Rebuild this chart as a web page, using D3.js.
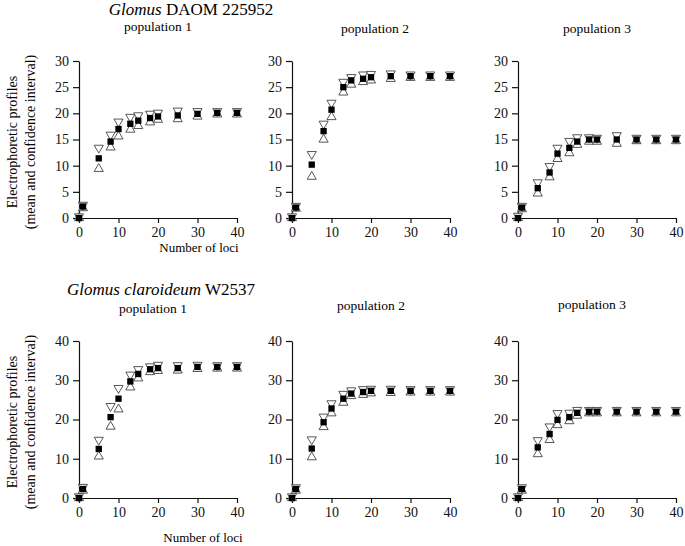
<!DOCTYPE html>
<html>
<head>
<meta charset="utf-8">
<script src="https://cdn.jsdelivr.net/npm/d3@7"></script>
<style>
  body { margin: 0; background: #fff; }
  svg { display: block; font-family: "Liberation Serif", "DejaVu Serif", serif; }
</style>
</head>
<body>
<svg></svg>
<script>
const svgWidth = 685;
const svgHeight = 546;

// number of loci sampled
const loci = [0, 1, 5, 8, 10, 13, 15, 18, 20, 25, 30, 35, 40];

// Glomus DAOM 225952
const daomPop1Mean  = [0, 2.2, 11.4, 14.6, 17.0, 18.0, 18.6, 19.1, 19.4, 19.6, 19.9, 20.1, 20.1];
const daomPop1Upper = [0.3, 2.5, 13.4, 15.9, 18.4, 19.3, 19.6, 19.9, 20.1, 20.5, 20.4, 20.4, 20.4];
const daomPop1Lower = [0, 1.9, 9.4, 13.5, 15.6, 16.9, 17.6, 18.3, 18.8, 18.9, 19.4, 19.8, 19.8];

const daomPop2Mean  = [0, 2.0, 10.2, 16.6, 20.7, 25.0, 26.3, 26.6, 26.9, 27.1, 27.1, 27.1, 27.1];
const daomPop2Upper = [0.3, 2.3, 12.2, 18.0, 22.0, 26.0, 26.9, 27.4, 27.5, 27.6, 27.4, 27.4, 27.4];
const daomPop2Lower = [0, 1.8, 7.9, 15.0, 19.3, 24.0, 25.5, 26.0, 26.3, 26.6, 26.8, 26.8, 26.8];

const daomPop3Mean  = [0, 2.0, 5.7, 8.7, 12.3, 13.4, 14.6, 15.0, 15.0, 15.0, 15.0, 15.0, 15.0];
const daomPop3Upper = [0.4, 2.3, 6.8, 9.9, 13.4, 14.7, 15.4, 15.4, 15.3, 15.8, 15.3, 15.3, 15.3];
const daomPop3Lower = [0, 1.7, 4.7, 7.8, 11.3, 12.4, 14.0, 14.6, 14.6, 14.2, 14.7, 14.7, 14.7];

// Glomus claroideum W2537
const clarPop1Mean  = [0, 2.3, 12.5, 20.6, 25.3, 29.7, 31.6, 32.8, 33.1, 33.1, 33.4, 33.4, 33.4];
const clarPop1Upper = [0.4, 2.8, 14.8, 23.4, 28.0, 31.4, 32.8, 33.5, 33.9, 33.8, 33.9, 33.8, 33.8];
const clarPop1Lower = [0, 1.9, 10.6, 18.2, 22.6, 28.2, 30.5, 32.1, 32.4, 32.5, 32.9, 33.0, 33.0];

const clarPop2Mean  = [0, 2.3, 12.6, 19.3, 22.8, 25.3, 26.6, 27.0, 27.3, 27.3, 27.3, 27.3, 27.3];
const clarPop2Upper = [0.4, 2.7, 14.9, 20.7, 24.1, 26.5, 27.4, 27.7, 27.8, 27.8, 27.7, 27.7, 27.7];
const clarPop2Lower = [0, 1.9, 10.4, 18.1, 21.6, 24.3, 26.0, 26.3, 26.7, 26.8, 26.9, 26.9, 26.9];

const clarPop3Mean  = [0, 2.3, 12.9, 16.3, 19.9, 20.6, 21.7, 22.0, 22.0, 22.0, 22.0, 22.0, 22.0];
const clarPop3Upper = [0.4, 2.7, 14.7, 18.2, 21.6, 21.7, 22.4, 22.4, 22.4, 22.4, 22.4, 22.4, 22.4];
const clarPop3Lower = [0, 1.9, 11.2, 14.8, 18.6, 19.6, 21.0, 21.6, 21.6, 21.6, 21.6, 21.6, 21.6];

const xTicks = [0, 10, 20, 30, 40];
const yTicksTop = [0, 5, 10, 15, 20, 25, 30];
const yTicksBottom = [0, 10, 20, 30, 40];

const popNames = ["population 1", "population 2", "population 3"];

const svg = d3.select("svg")
  .attr("width", svgWidth)
  .attr("height", svgHeight);

svg.append("rect").attr("width", svgWidth).attr("height", svgHeight).attr("fill", "#fff");

// panel layout
const colLeft = [79, 292, 518];
const plotW = 158;
const rows = [
  { top: 61, bottom: 218, yMax: 30, yTicks: yTicksTop,
    series: [[daomPop1Mean, daomPop1Upper, daomPop1Lower],
             [daomPop2Mean, daomPop2Upper, daomPop2Lower],
             [daomPop3Mean, daomPop3Upper, daomPop3Lower]],
    popY: [31, 33, 33], popX: [158, 375, 597] },
  { top: 341, bottom: 498, yMax: 40, yTicks: yTicksBottom,
    series: [[clarPop1Mean, clarPop1Upper, clarPop1Lower],
             [clarPop2Mean, clarPop2Upper, clarPop2Lower],
             [clarPop3Mean, clarPop3Upper, clarPop3Lower]],
    popY: [313, 310, 309], popX: [153, 371, 592] }
];

const triUp = d3.symbol().type(d3.symbolTriangle).size(36);
const square = d3.symbol().type(d3.symbolSquare).size(40);

rows.forEach(row => {
  row.series.forEach((s, c) => {
    const x = d3.scaleLinear().domain([0, 40]).range([colLeft[c], colLeft[c] + plotW]);
    const y = d3.scaleLinear().domain([0, row.yMax]).range([row.bottom, row.top]);

    const g = svg.append("g");

    const xAxis = g.append("g")
      .attr("transform", `translate(0,${row.bottom})`)
      .call(d3.axisBottom(x).tickValues(xTicks).tickSize(5).tickSizeOuter(0).tickPadding(4));
    const yAxis = g.append("g")
      .attr("transform", `translate(${colLeft[c]},0)`)
      .call(d3.axisLeft(y).tickValues(row.yTicks).tickSize(6).tickSizeOuter(0).tickPadding(4));

    [xAxis, yAxis].forEach(a => {
      a.selectAll("path, line").attr("stroke", "#111").attr("stroke-width", 1.2);
      a.selectAll("text").attr("font-size", 14).attr("fill", "#111")
        .attr("font-family", "Liberation Serif, serif");
    });

    const [mean, upper, lower] = s;

    // lower bound: upward triangle
    g.selectAll(".lo").data(lower).enter().append("path")
      .attr("d", triUp)
      .attr("transform", (d, i) => `translate(${x(loci[i])},${y(d)})`)
      .attr("fill", "#fff").attr("stroke", "#444").attr("stroke-width", 0.9);

    // upper bound: downward triangle
    g.selectAll(".hi").data(upper).enter().append("path")
      .attr("d", triUp)
      .attr("transform", (d, i) => `translate(${x(loci[i])},${y(d)}) rotate(180)`)
      .attr("fill", "#fff").attr("stroke", "#444").attr("stroke-width", 0.9);

    // mean: filled square
    g.selectAll(".mean").data(mean).enter().append("path")
      .attr("d", square)
      .attr("transform", (d, i) => `translate(${x(loci[i])},${y(d)})`)
      .attr("fill", "#000");

    svg.append("text")
      .attr("x", row.popX[c]).attr("y", row.popY[c])
      .attr("text-anchor", "middle").attr("font-size", 13.5)
      .text(popNames[c]);
  });
});

// titles
const t1 = svg.append("text").attr("x", 191).attr("y", 15)
  .attr("text-anchor", "middle").attr("font-size", 17);
t1.append("tspan").attr("font-style", "italic").text("Glomus");
t1.append("tspan").text(" DAOM 225952");

const t2 = svg.append("text").attr("x", 161).attr("y", 295)
  .attr("text-anchor", "middle").attr("font-size", 17);
t2.append("tspan").attr("font-style", "italic").text("Glomus claroideum");
t2.append("tspan").text(" W2537");

// axis titles
[[199, 252], [203, 542]].forEach(p => {
  svg.append("text").attr("x", p[0]).attr("y", p[1])
    .attr("text-anchor", "middle").attr("font-size", 13)
    .text("Number of loci");
});

[142, 422].forEach(cy => {
  svg.append("text")
    .attr("transform", `translate(17,${cy}) rotate(-90)`)
    .attr("text-anchor", "middle").attr("font-size", 14)
    .text("Electrophoretic profiles");
  svg.append("text")
    .attr("transform", `translate(35,${cy}) rotate(-90)`)
    .attr("text-anchor", "middle").attr("font-size", 14)
    .text("(mean and confidence interval)");
});
</script>
</body>
</html>
